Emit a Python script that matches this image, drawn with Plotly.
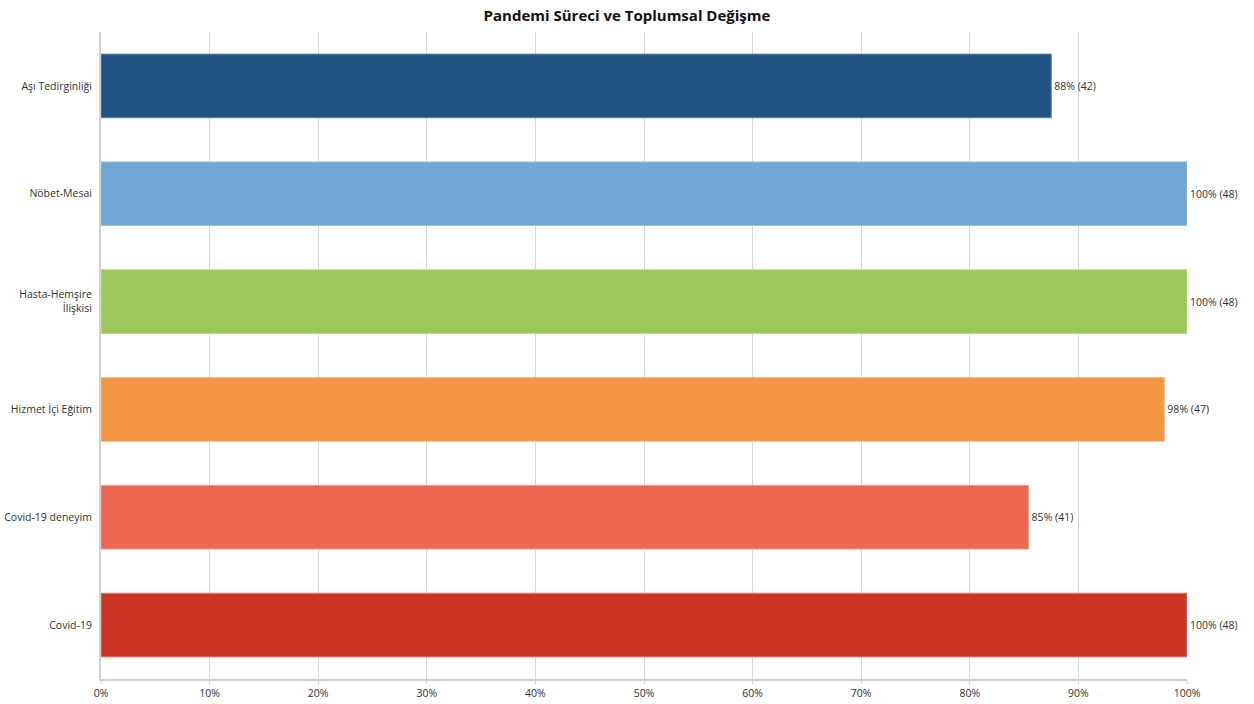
import plotly.graph_objects as go

categories = ["Aşı Tedirginliği", "Nöbet-Mesai", "Hasta-Hemşire<br>İlişkisi",
              "Hizmet İçi Eğitim", "Covid-19 deneyim", "Covid-19"]
counts = [42, 48, 48, 47, 41, 48]
total = 48
colors = ["#1F5482", "#6FA6D3", "#9BC75B", "#F39642", "#EE6651", "#CC3526"]
edge_colors = ["#5E84A6", "#9CC2E2", "#BCDA93", "#F7B882", "#F4998B", "#E07A70"]

percents = [c / total * 100 for c in counts]
labels = [f"{round(p)}% ({c})" for p, c in zip(percents, counts)]

fig = go.Figure(go.Bar(
    y=categories, x=percents, orientation="h",
    marker=dict(color=colors, line=dict(color=edge_colors, width=1)),
    text=labels, textposition="outside", cliponaxis=False,
    textfont=dict(family="Open Sans", size=10.5, color="#333333"),
    width=0.59,
))

fig.update_layout(
    width=1254, height=704,
    margin=dict(l=101, r=67, t=32, b=25, autoexpand=False),
    paper_bgcolor="white", plot_bgcolor="white",
    title=dict(text="<b>Pandemi Süreci ve Toplumsal Değişme</b>", x=0.5, xanchor="center",
               y=0.977, yanchor="middle",
               font=dict(family="Open Sans", size=15, color="#111111")),
    font=dict(family="Open Sans", size=11, color="#333333"),
    showlegend=False,
    xaxis=dict(range=[0, 100], dtick=10, ticksuffix="%", showgrid=True,
               gridcolor="#D9D9D9", gridwidth=1, zeroline=False,
               showline=True, linecolor="#D0D0D0", linewidth=2,
               ticks="outside", ticklen=3, tickcolor="#D0D0D0", automargin=False,
               tickfont=dict(family="Open Sans", size=10.5, color="#333333")),
    yaxis=dict(categoryorder="array", categoryarray=categories, autorange="reversed",
               showline=True, linecolor="#D0D0D0", linewidth=2, ticks="",
               ticklabelstandoff=5, showgrid=False, automargin=False,
               tickfont=dict(family="Open Sans", size=10.5, color="#333333")),
    bargap=0.41,
)

fig.write_html("out.html", config={"displayModeBar": False},
               post_script="document.body.style.margin='0';")
